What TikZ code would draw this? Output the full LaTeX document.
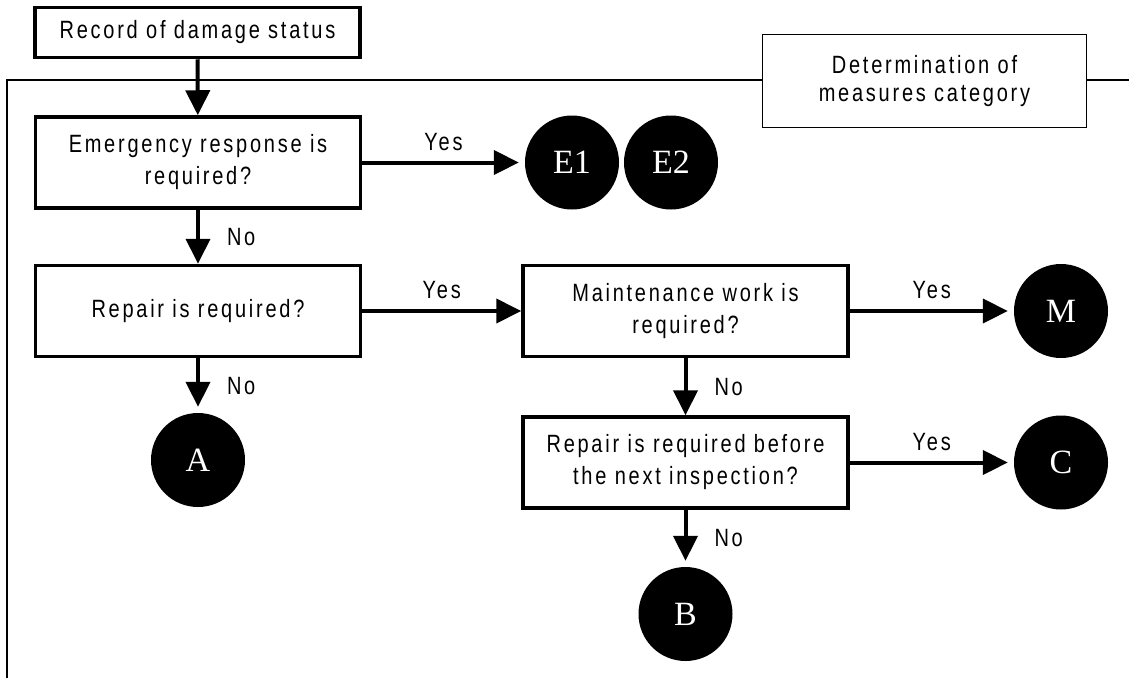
\documentclass[tikz,border=0pt]{standalone}
\usepackage{fontspec}
\setmainfont{Liberation Sans}[FakeStretch=0.8,LetterSpace=11]
\newfontfamily\circfont{Liberation Serif}
\usetikzlibrary{arrows.meta}
\begin{document}
\begin{tikzpicture}[x=1pt,y=-1pt,
  box/.style={draw,rectangle,line width=3.5pt,inner sep=0pt,align=center,
    font=\fontsize{25}{32}\selectfont,minimum width=325pt,minimum height=91pt},
  endc/.style={circle,fill=black,draw=none,inner sep=0pt,minimum size=94pt,
    text=white,font=\circfont\fontsize{34}{34}\selectfont},
  arr/.style={line width=4pt,-{Triangle[length=25pt,width=24pt]}},
  arrc/.style={arr,shorten >=6pt},
  lbl/.style={inner sep=0pt,font=\fontsize{25}{28}\selectfont},
  frame/.style={line width=1.3pt}]
\useasboundingbox (0,0) rectangle (1129,678);
% frame and title box
\node[draw,rectangle,line width=1.8pt,inner sep=0pt,align=center,
  font=\fontsize{25}{28}\selectfont,minimum width=324pt,minimum height=93pt]
  (det) at (924.5,81) {Determination of\\measures category};
\draw[frame] (7,678) -- (7,80) -- (det.west |- 0,80);
\draw[frame] (det.east |- 0,80) -- (1129,80);
% boxes
\node[box,minimum height=50pt] (rec) at (197.5,32.5) {Record of damage status};
\node[box] (emer) at (198,162.5) {Emergency response is\\required?};
\node[box] (rep) at (198,311) {Repair is required?};
\node[box] (maint) at (685.5,311) {Maintenance work is\\required?};
\node[box] (rnext) at (685.5,462.5) {Repair is required before\\the next inspection?};
% end circles
\node[endc] (E1) at (572,162.5) {E1};
\node[endc] (E2) at (671,162.5) {E2};
\node[endc] (M) at (1061,311) {M};
\node[endc] (C) at (1061,462.5) {C};
\node[endc] (A) at (198,460) {A};
\node[endc] (B) at (685.5,614) {B};
% connectors
\draw[arr] (rec) -- (emer);
\draw[arrc] (emer) -- (E1) node[lbl,midway,above=10pt] {Yes};
\draw[arr] (emer) -- (rep) node[lbl,midway,anchor=west,xshift=27pt] {No};
\draw[arr] (rep) -- (maint) node[lbl,midway,above=10pt] {Yes};
\draw[arrc] (rep) -- (A) node[lbl,midway,anchor=west,xshift=27pt] {No};
\draw[arrc] (maint) -- (M) node[lbl,midway,above=10pt] {Yes};
\draw[arr] (maint) -- (rnext) node[lbl,midway,anchor=west,xshift=27pt] {No};
\draw[arrc] (rnext) -- (C) node[lbl,midway,above=10pt] {Yes};
\draw[arrc] (rnext) -- (B) node[lbl,midway,anchor=west,xshift=27pt] {No};
\end{tikzpicture}
\end{document}
